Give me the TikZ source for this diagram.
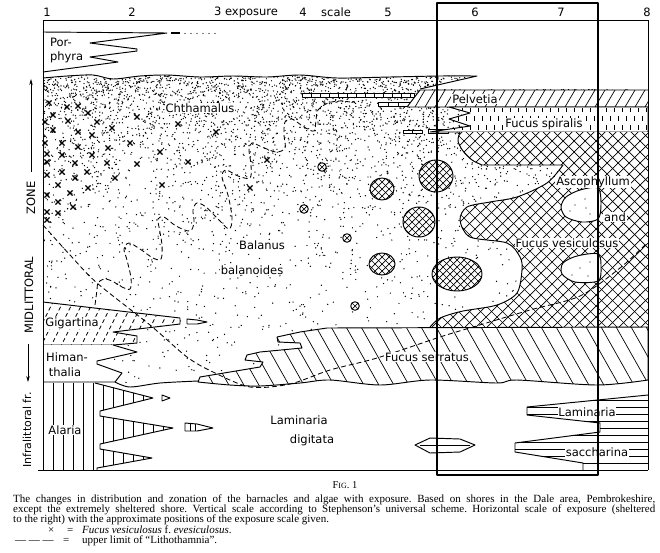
\documentclass[tikz,border=0pt]{standalone}
\usepackage{fontspec}
\usepackage{graphicx}
\setmainfont{Liberation Serif}
\newfontfamily\lblfont{DejaVu Sans}
\usetikzlibrary{arrows.meta}
\newsavebox{\mycapbox}
\newcommand{\mycapline}[1]{%
  \sbox{\mycapbox}{#1}%
  \ifdim\wd\mycapbox>642pt \resizebox{642pt}{\height}{#1}\else\makebox[642pt][s]{#1}\fi}
\newcommand{\xhatchell}[4]{%
  \fill[white] (#1,#2) ellipse[x radius=#3,y radius=#4];
  \begin{scope}
    \clip (#1,#2) ellipse[x radius=#3,y radius=#4];
    \foreach \k in {-9,...,9}{\draw[thinl] (#1+\k*7-40,#2-40) -- ++(80,80); \draw[thinl] (#1+\k*7+40,#2-40) -- ++(-80,80);}
  \end{scope}
  \draw[outl] (#1,#2) ellipse[x radius=#3,y radius=#4];}
\newcommand{\otimesmark}[2]{%
  \draw[outl,fill=white] (#1,#2) circle[radius=4.3];
  \draw[thinl] (#1-3,#2-3) -- (#1+3,#2+3) (#1-3,#2+3) -- (#1+3,#2-3);}
\begin{document}
\frenchspacing
\begin{tikzpicture}[x=1pt,y=-1pt,line join=round,
  outl/.style={line width=0.95pt},
  thinl/.style={line width=0.7pt},
  lab/.style={font=\lblfont\fontsize{11.5}{13}\selectfont,inner sep=0.8pt},
  labw/.style={lab,fill=white},
  sidelab/.style={font=\lblfont\fontsize{11.5}{13}\selectfont,inner sep=0pt,rotate=90},
  xmark/.style={line width=1.1pt},
  dashl/.style={line width=0.85pt,dash pattern=on 5pt off 3pt},
  heavy/.style={line width=2.2pt},
  captext/.style={font=\fontsize{11}{12}\selectfont,inner sep=0pt,anchor=base west}]
\useasboundingbox (0,0) rectangle (660,552);
\fill[white] (0,0) rectangle (660,552);

% ---------- stipple (Chthamalus / Balanus) ----------
\begin{scope}
\clip plot[smooth] coordinates {(43,78) (67,76) (93,75) (113,79) (140,76) (167,75) (200,77) (233,76) (267,77) (300,75) (337,78) (390,77) (440,76) (477,76)} -- (420,89) -- (648,89) -- (648,380) -- (198,380) -- (115,383) -- (43,383) -- cycle;
\pgfmathsetseed{11}
\foreach \yb in {72,76,...,384}{
  \pgfmathtruncatemacro{\n}{605*4*(0.12*exp(-(\yb-77)/60)+0.0055)}
  \foreach \i in {1,...,\n}{\fill (43+605*rnd,\yb+4*rnd) circle[radius=0.7];}
}
\end{scope}

% ---------- x marks ----------
\foreach \x/\y in {49/103,67/107,78/106,53/115,88/113,68/121,97/122,45/122,53/130,78/132,92/135,112/128,137/117,178/124,216/132,45/143,62/143,78/147,108/148,130/143,160/152,47/154,62/155,92/155,47/162,75/163,107/163,137/164,188/162,267/160,47/175,62/172,87/172,75/178,115/178,58/185,88/188,162/185,250/188,70/193,47/195,58/202,73/207,47/212,58/213,47/220}
  \draw[xmark] (\x-2.6,\y-2.6) -- (\x+2.6,\y+2.6) (\x-2.6,\y+2.6) -- (\x+2.6,\y-2.6);

% ---------- Porphyra ----------
\draw[outl] (43,32) -- (167,33) -- (90,43) -- (137,49) -- (137,51) -- (90,57) -- (118,62) -- (43,72);
\draw[line width=2pt] (171,33) -- (180,33);
\foreach \x in {185,191,...,218} \fill (\x,33.5) circle[radius=0.6];

% ---------- Chthamalus upper limit ----------
\draw[outl] plot[smooth] coordinates {(43,78) (67,76) (93,75) (113,79) (140,76) (167,75) (200,77) (233,76) (267,77) (300,75) (337,78) (390,77) (440,76) (477,76)} -- (420,89);

% ---------- Pelvetia ----------
\draw[thinl,fill=white] (302,93) rectangle (414,97);
\foreach \x in {311,320,...,410} \draw[thinl] (\x,93) -- (\x,97);
\draw[thinl,fill=white] (378,102) rectangle (410,106);
\foreach \x in {388,398} \draw[thinl] (\x,102) -- (\x,106);
\fill[white] (420,90) -- (648,90) -- (648,107) -- (407,107) -- cycle;
\begin{scope}
\clip (420,90) -- (648,90) -- (648,107) -- (407,107) -- cycle;
\foreach \x in {395,405,...,655} \draw[thinl] (\x,107) -- (\x+10,90);
\end{scope}
\draw[outl] (420,90) -- (648,90) (407,107) -- (648,107) (420,90) -- (407,107);

% ---------- Fucus spiralis ----------
\draw[thinl,fill=white] (403,130) rectangle (422,133);
\draw[thinl] (412,130) -- (412,133);
\draw[thinl,fill=white] (428,129) rectangle (448,133);
\draw[thinl] (438,129) -- (438,133);
\fill[white] (449,107) -- (648,107) -- (648,132) -- (430,132) -- (470,126) -- (449,119) -- (470,113) -- cycle;
\begin{scope}
\clip (449,107) -- (648,107) -- (648,132) -- (430,132) -- (470,126) -- (449,119) -- (470,113) -- cycle;
\foreach \x in {446,454,...,648}{\draw[thinl] (\x,108) -- (\x,112); \draw[thinl] (\x+4,116) -- (\x+4,121); \draw[thinl] (\x,125) -- (\x,130);}
\end{scope}
\draw[outl] (449,107) -- (648,107) -- (648,132) -- (430,132) -- (470,126) -- (449,119) -- (470,113) -- cycle;

% ---------- Ascophyllum and Fucus vesiculosus ----------
\def\xregion{(648,327) -- (648,132) -- (460,132) -- plot[smooth] coordinates {(460,132) (458,141) (463,151) (472,160) (482,165)} -- (560,165) -- plot[smooth] coordinates {(563,165) (547,183) (517,197) (490,202) (467,207) (460,220) (470,237) (507,243) (520,257) (522,270) (517,293) (497,305) (463,311) (445,316) (437,320) (430,327)} -- cycle}
\fill[white] \xregion;
\begin{scope}
\clip \xregion;
\foreach \c in {200,211,...,900}{\draw[thinl] (\c,130) -- (\c+200,330); \draw[thinl] (\c,130) -- (\c-200,330);}
\end{scope}
\draw[outl] plot[smooth] coordinates {(460,132) (458,141) (463,151) (472,160) (482,165)} -- (560,165) -- plot[smooth] coordinates {(563,165) (547,183) (517,197) (490,202) (467,207) (460,220) (470,237) (507,243) (520,257) (522,270) (517,293) (497,305) (463,311) (445,316) (437,320) (430,327)};
\draw[outl,fill=white] plot[smooth cycle] coordinates {(598,188) (580,190) (566,197) (561,207) (566,217) (582,222) (598,219) (601,204)};
\draw[outl,fill=white] plot[smooth cycle] coordinates {(598,254) (577,256) (563,263) (562,274) (575,282) (598,281) (601,268)};
\foreach \x/\y in {575/205,585/199,590/214,570/211,586/208,580/268,590/262,572/275,588/276}
  \fill (\x,\y) circle[radius=0.7];

% ---------- crosshatched patches ----------
\xhatchell{382}{189}{12}{11}
\xhatchell{419}{222}{16}{15}
\xhatchell{382}{264}{13}{11}
\xhatchell{436}{176}{17}{16}
\xhatchell{457}{274}{25}{17}
\otimesmark{322}{167}
\otimesmark{304}{209}
\otimesmark{347}{238}
\otimesmark{355}{306}

% ---------- Gigartina ----------
\fill[white] (43,302) -- (180,318) -- (180,324) -- (113,332) -- (137,336) -- (137,343) -- (113,345) -- (43,345) -- cycle;
\begin{scope}
\clip (43,302) -- (180,318) -- (180,324) -- (113,332) -- (137,336) -- (137,343) -- (113,345) -- (43,345) -- cycle;
\foreach \x in {20,30,...,200} \draw[thinl,dash pattern=on 4pt off 3pt] (\x,348) -- ++(25,-50);
\end{scope}
\draw[outl] (43,302) -- (180,318) -- (180,324) -- (113,332) -- (137,336) -- (137,343) -- (113,345) -- (43,345);
\draw[outl,fill=white] (187,319) -- (197,320) -- (207,322) -- (197,324) -- (187,324) -- cycle;

% ---------- Himanthalia ----------
\fill[white] (43,345) -- (113,345) -- (137,352) -- (97,361) -- (97,364) -- (122,373) -- (115,382) -- (43,382) -- cycle;
\draw[outl] (113,345) -- (137,352) -- (97,361) -- (97,364) -- (122,373) -- (115,382);
\draw[outl] (43,382) -- (115,382) plot[smooth] coordinates {(115,382) (130,387) (160,383) (198,381)};

% ---------- Fucus serratus ----------
\def\sregion{(648,327) -- (327,328) -- (300,332) -- (277,337) -- (278,342) -- (300,343) -- (302,348) -- (260,352) -- (247,355) -- (245,360) -- (263,362) -- (260,367) -- (200,377) -- (198,382) -- plot[smooth] coordinates {(198,382) (230,385) (260,386) (300,383) (330,380) (380,385) (430,380) (497,383) (517,380) (597,385) (648,380)} -- cycle}
\fill[white] \sregion;
\begin{scope}
\clip \sregion;
\foreach \x in {150,165,...,660} \draw[thinl] (\x,325) -- (\x+35,387);
\end{scope}
\draw[outl] \sregion;

% ---------- Alaria ----------
\def\aregion{(43,383) -- (95,383) -- (153,398) -- (100,411) -- (100,416) -- (173,428) -- (100,444) -- (100,449) -- (152,458) -- (97,468) -- (97,470) -- (43,470) -- cycle}
\begin{scope}
\clip \aregion;
\foreach \x in {53,63,...,173} \draw[thinl] (\x,380) -- (\x,472);
\end{scope}
\draw[outl] (95,383) -- (153,398) -- (100,411) -- (100,416) -- (173,428) -- (100,444) -- (100,449) -- (152,458) -- (97,468) -- (97,470);
\draw[outl] (162,395) -- (170,398) -- (162,401) -- cycle;
\draw[outl] (185,423) -- (197,424) -- (213,428) -- (197,431) -- (185,431) -- cycle;
\draw[thinl] (190,423) -- (190,431) (195,424) -- (195,431);

% ---------- Laminaria saccharina ----------
\def\lregion{(648,395) -- (527,407) -- (527,415) -- (600,423) -- (600,432) -- (515,443) -- (515,452) -- (583,463) -- (583,470) -- (648,470) -- cycle}
\begin{scope}
\clip \lregion;
\foreach \y in {400,407,...,468} \draw[thinl] (500,\y) -- (650,\y);
\end{scope}
\draw[outl] (648,395) -- (527,407) -- (527,415) -- (600,423) -- (600,432) -- (515,443) -- (515,452) -- (583,463) -- (583,470);
\draw[outl] (415,445) -- (430,438) -- (460,439) -- (475,445) -- (460,452) -- (430,453) -- cycle;
\draw[thinl] (420,445) -- (470,445);

% ---------- upper limit of Lithothamnia ----------
\draw[dashl] plot[smooth] coordinates {(43,225) (70,255) (97,283) (150,325) (187,357) (213,372) (250,387) (290,384) (330,370) (377,358) (440,337) (473,327) (530,310) (580,296) (620,268) (647,243)};

% ---------- dashed squiggle ----------
\draw[dashl] plot[smooth,tension=0.55] coordinates {(95,305) (97,290) (98,283) (104,279) (112,281) (122,287) (130,289) (131,278) (127,260) (124,249) (129,243) (140,249) (153,258) (161,259) (162,245) (159,227) (158,219) (164,217) (176,226) (190,231) (194,222) (193,210) (197,203) (206,207) (218,219) (229,229) (232,218) (228,195) (222,177) (226,170) (238,176) (250,178) (251,165) (249,150) (252,143) (262,147) (276,152) (285,148) (284,135) (285,122) (292,119) (304,127) (314,131) (316,120) (318,110) (328,103) (340,101) (350,102)};

% ---------- frame ----------
\draw[outl] (43,20) -- (648,20);
\draw[outl] (43,20) -- (43,470);
\draw[outl] (648,20) -- (648,470);
\draw[outl] (38,470) -- (648,470);

% ---------- scale ----------
\node[lab] (s1) at (47,12) {1};
\node[lab] (s2) at (132,12) {2};
\node[lab] (s3) at (246,12) {3 exposure};
\node[lab] (s4) at (303,12) {4};
\node[lab] (s4b) at (336,12) {scale};
\node[lab] (s5) at (388,12) {5};
\node[lab] (s6) at (475,12) {6};
\node[lab] (s7) at (561,12) {7};
\node[lab] (s8) at (647,12) {8};

% ---------- side labels ----------
\node[sidelab] (zone) at (31,198) {ZONE};
\node[sidelab] (midl) at (29,295) {MIDLITTORAL};
\node[sidelab,font=\lblfont\fontsize{11}{13}\selectfont] (infra) at (27,430) {Infralittoral fr.};
\coordinate (zt) at (31,79);
\coordinate (zb) at (31,172);
\coordinate (mt) at (28,344);
\coordinate (mb) at (28,382);
\draw[thinl,-{Stealth[length=6pt,width=3.5pt]}] (zb) -- (zt);
\draw[thinl,-{Stealth[length=6pt,width=3.5pt]}] (mt) -- (mb);

% ---------- zone labels ----------
\node[lab,anchor=west] (por1) at (49,42) {Por-};
\node[lab,anchor=west] (por2) at (49,57) {phyra};
\node[labw] (chth) at (200,108) {Chthamalus};
\node[labw] (bal1) at (262,245) {Balanus};
\node[labw] (bal2) at (252,270) {balanoides};
\node[labw] (pelv) at (475,99) {Pelvetia};
\node[labw] (fspi) at (544,124) {Fucus spiralis};
\node[labw] (asco) at (593,182) {Ascophyllum};
\node[labw] (and) at (615,217) {and};
\node[labw] (fves) at (567,243) {Fucus vesiculosus};
\node[labw] (fser) at (427,357) {Fucus serratus};
\node[labw] (giga) at (72,323) {Gigartina};
\node[labw] (him1) at (67,357) {Himan-};
\node[labw] (him2) at (65,372) {thalia};
\node[labw] (alar) at (65,430) {Alaria};
\node[lab] (ldig1) at (299,420) {Laminaria};
\node[lab] (ldig2) at (312,440) {digitata};
\node[labw] (lsac1) at (587,412) {Laminaria};
\node[labw] (lsac2) at (597,452) {saccharina};

% ---------- heavy frame (over the labels) ----------
\draw[heavy] (437,3) rectangle (598,475);

% ---------- caption ----------
\node[inner sep=0pt,font=\fontsize{10.5}{12}\selectfont] (fig) at (345,485) {F{\fontsize{8}{9}\selectfont IG}. 1};
\node[captext] (c1) at (13,502) {\mycapline{The changes in distribution and zonation of the barnacles and algae with exposure. Based on shores in the Dale area, Pembrokeshire,}};
\node[captext] (c2) at (13,512) {\mycapline{except the extremely sheltered shore. Vertical scale according to Stephenson’s universal scheme. Horizontal scale of exposure (sheltered}};
\node[captext] (c3) at (13,522) {to the right) with the approximate positions of the exposure scale given.};
\node[captext] (c4) at (48,533) {\makebox[19pt][l]{×}\makebox[15pt][l]{=}\textit{Fucus vesiculosus} f. \textit{evesiculosus}.};
\node[captext] (c5) at (15,543) {\makebox[48pt][l]{— — —}\makebox[19pt][l]{=}upper limit of “Lithothamnia”.};
\end{tikzpicture}
\end{document}
